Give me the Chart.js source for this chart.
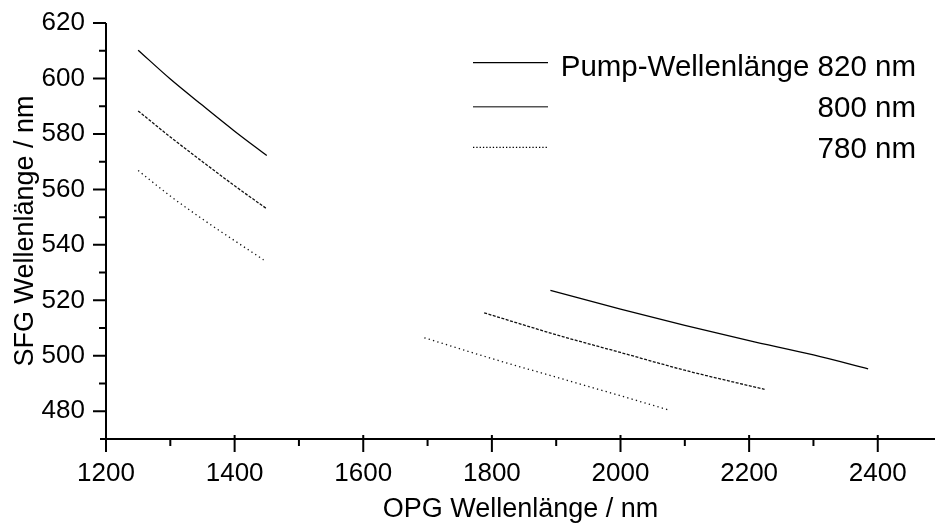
<!DOCTYPE html>
<html>
<head>
<meta charset="utf-8">
<script src="https://cdn.jsdelivr.net/npm/chart.js@4.4.1/dist/chart.umd.min.js"></script>
<style>
  html, body { margin: 0; padding: 0; background: #fff; overflow: hidden; }
</style>
</head>
<body>
<canvas id="myChart" width="935" height="526"></canvas>
<script>
// SFG wavelength against OPG wavelength, one curve per pump wavelength
// values, each curve has two branches

const pumpLabels = ['Pump-Wellenlänge 820 nm', '800 nm', '780 nm']

const opg820Left = [1250, 1300, 1350, 1400, 1450]
const sfg820Left = [610.2, 599.8, 590.3, 581.0, 572.2]
const opg820Right = [1891, 2000, 2100, 2200, 2300, 2385]
const sfg820Right = [523.6, 516.8, 511.0, 505.5, 500.3, 495.3]

const opg800Left = [1250, 1300, 1350, 1400, 1450]
const sfg800Left = [588.3, 578.9, 570.0, 561.3, 553.0]
const opg800Right = [1788, 1900, 2000, 2100, 2224]
const sfg800Right = [515.5, 507.6, 501.2, 494.8, 487.9]

const opg780Left = [1250, 1300, 1350, 1400, 1445]
const sfg780Left = [566.8, 557.6, 549.3, 541.5, 534.6]
const opg780Right = [1695, 1800, 1900, 2000, 2076]
const sfg780Right = [506.5, 499.0, 492.3, 485.6, 480.4]

const font = 'Liberation Sans, Arial, sans-serif'

function branches(xl, yl, xr, yr) {
  const pts = xl.map((x, i) => ({x: x, y: yl[i]}))
  pts.push({x: (xl[xl.length - 1] + xr[0]) / 2, y: null})
  return pts.concat(xr.map((x, i) => ({x: x, y: yr[i]})))
}

const data = {
  datasets: [{
    label: pumpLabels[0],
    data: branches(opg820Left, sfg820Left, opg820Right, sfg820Right),
    borderColor: '#000',
    borderWidth: 1.3,
    legendDash: []
  }, {
    label: pumpLabels[1],
    data: branches(opg800Left, sfg800Left, opg800Right, sfg800Right),
    borderColor: '#111',
    borderWidth: 1.3,
    borderDash: [3, 1.5],
    legendDash: []
  }, {
    label: pumpLabels[2],
    data: branches(opg780Left, sfg780Left, opg780Right, sfg780Right),
    borderColor: '#111',
    borderWidth: 1.3,
    borderDash: [1.3, 3.2],
    legendDash: [1.3, 2]
  }]
}

// axis lines, major/minor tick marks and the legend, drawn on top of the library scales
const frame = {
  id: 'frame',
  afterDraw(chart) {
    const c = chart.ctx
    const xs = chart.scales.x, ys = chart.scales.y
    const ax = chart.chartArea.left, ay = chart.chartArea.bottom
    c.save()
    c.strokeStyle = '#000'
    c.lineWidth = 2
    c.beginPath()
    c.moveTo(ax - 6, ay); c.lineTo(chart.width, ay)
    c.moveTo(ax, chart.chartArea.top); c.lineTo(ax, ay + 4)
    xs.ticks.forEach(t => {
      if (t.value % 100 !== 0) return
      const px = xs.getPixelForValue(t.value)
      const major = t.value % 200 === 0
      c.moveTo(px, major ? ay - 4 : ay); c.lineTo(px, ay + (major ? 13 : 7))
    })
    ys.ticks.forEach(t => {
      if (t.value % 10 !== 0 || t.value === ys.min) return
      const py = ys.getPixelForValue(t.value)
      const major = t.value % 20 === 0
      c.moveTo(ax - (major ? 13 : 7), py); c.lineTo(ax, py)
    })
    c.stroke()

    // legend
    const lineY = [62.7, 106.7, 147.3]
    const textY = [68, 109, 150]
    c.font = '29.5px ' + font
    c.fillStyle = '#000'
    c.textAlign = 'right'
    c.textBaseline = 'middle'
    chart.data.datasets.forEach((ds, i) => {
      c.beginPath()
      c.lineWidth = i === 1 ? 1.5 : 1.2
      c.strokeStyle = i === 1 ? '#555' : '#000'
      c.setLineDash(ds.legendDash)
      c.moveTo(473, lineY[i]); c.lineTo(548, lineY[i])
      c.stroke()
      c.setLineDash([])
      c.fillText(ds.label, 916, textY[i])
    })
    c.restore()
  }
}

const options = {
  responsive: false,
  animation: false,
  layout: { padding: { top: 23, right: 0, left: 0, bottom: 0 } },
  elements: {
    point: { radius: 0 },
    line: { cubicInterpolationMode: 'monotone', fill: false }
  },
  plugins: {
    legend: { display: false },
    tooltip: { enabled: false }
  },
  scales: {
    x: {
      type: 'linear',
      min: 1200,
      max: 2489,
      grid: { display: false, drawTicks: false },
      border: { display: false },
      ticks: {
        stepSize: 100,
        includeBounds: false,
        padding: 19,
        maxRotation: 0,
        autoSkip: false,
        color: '#000',
        font: { family: font, size: 26 },
        callback: v => (v % 200 === 0 ? v : '')
      },
      title: {
        display: true,
        text: 'OPG Wellenlänge / nm',
        color: '#000',
        font: { family: font, size: 27 },
        padding: { top: -6, bottom: 0 }
      },
      afterFit: s => { s.height = 87; s.paddingLeft = 0; s.paddingRight = 0 }
    },
    y: {
      min: 470,
      max: 620,
      grid: { display: false, drawTicks: false },
      border: { display: false },
      ticks: {
        stepSize: 10,
        padding: 21,
        autoSkip: false,
        color: '#000',
        font: { family: font, size: 26 },
        callback: v => (v % 20 === 0 ? v : '')
      },
      title: {
        display: true,
        text: 'SFG Wellenlänge / nm',
        color: '#000',
        font: { family: font, size: 27 },
        padding: { top: 9, bottom: 0 }
      },
      afterFit: s => { s.width = 106; s.paddingTop = 0; s.paddingBottom = 0 }
    }
  }
}

const config = {
  type: 'line',
  data: data,
  options: options,
  plugins: [frame]
}

const chart = new Chart(document.querySelector('#myChart'), config)
</script>
</body>
</html>
